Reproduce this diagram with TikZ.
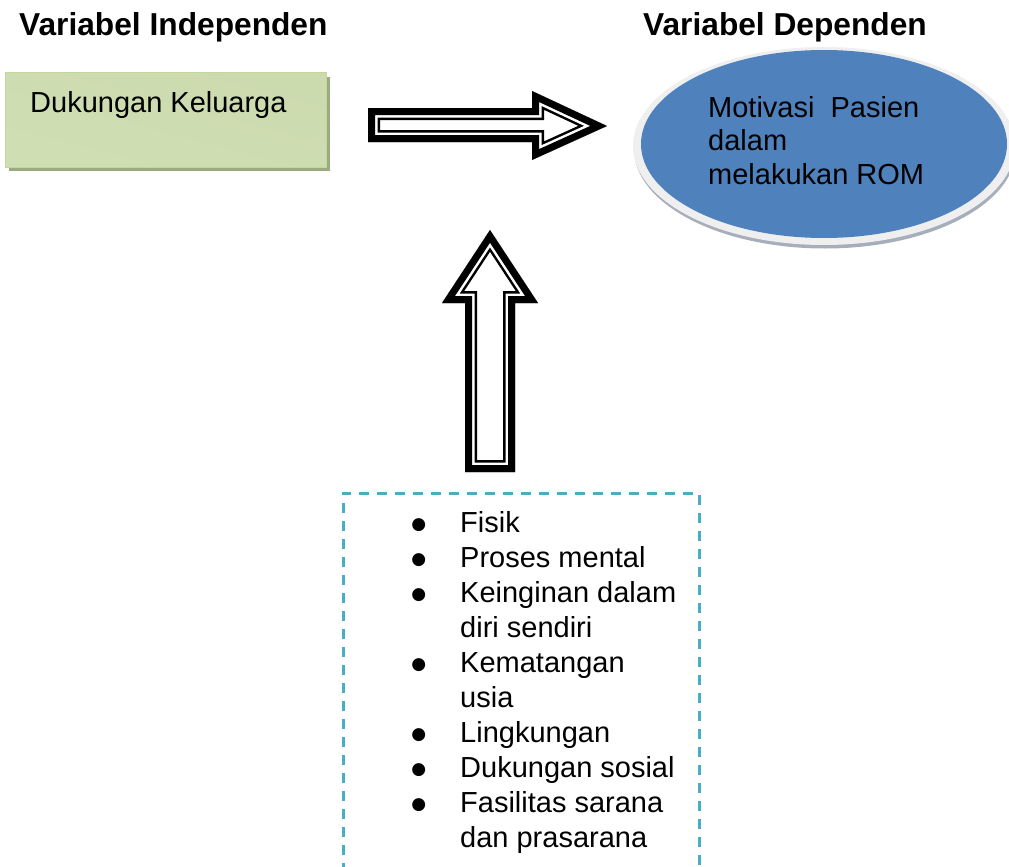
\documentclass[tikz,border=0pt]{standalone}
\usepackage{fontspec}
\setmainfont{Liberation Sans}
\newfontfamily\symfont{DejaVu Sans}
\usetikzlibrary{shapes.geometric,shadows}
\definecolor{dashc}{HTML}{4BACC6}
\definecolor{blueE}{HTML}{4F81BD}
\definecolor{ringE}{HTML}{EFEFEF}
\definecolor{shadE}{HTML}{A7AEBB}
\definecolor{greenB}{HTML}{C3D69B}
\definecolor{greenT}{HTML}{CCDBAE}
\definecolor{greenM}{HTML}{F0F5E9}
\definecolor{greenD}{HTML}{D0DEB4}
\definecolor{shadowG}{HTML}{9BAA80}
\newcommand{\bul}{\makebox[15pt][c]{\raisebox{3pt}{\fontsize{17}{17}\symfont ●}}}
\begin{document}
\begin{tikzpicture}[x=1pt,y=-1pt,
  titletext/.style={anchor=base west, inner sep=0pt, font=\fontsize{31.7}{38}\selectfont\bfseries},
  bodytext/.style={anchor=base west, inner sep=0pt, font=\fontsize{29}{35}\selectfont},
  greenbox/.style={rectangle, minimum width=321pt, minimum height=94pt, inner sep=0pt,
    draw=greenB, line width=1pt,
    top color=greenT, middle color=greenM, bottom color=greenD, shading angle=-15,
    drop shadow={shadow xshift=4pt, shadow yshift=-4pt, fill=shadowG, opacity=1}},
  blueell/.style={ellipse, minimum width=366pt, minimum height=188pt, inner sep=0pt, fill=blueE},
  dashbox/.style={rectangle, draw=dashc, line width=3pt, dash pattern=on 10pt off 8pt, dash phase=4pt,
    minimum width=356pt, minimum height=390pt, inner sep=0pt},
  blockarrow/.style={line join=miter, miter limit=20}
]
\useasboundingbox (0,0) rectangle (1009,867);

% titles
\node[titletext] (tind) at (19,36) {Variabel Independen};
\node[titletext] (tdep) at (643,36) {Variabel Dependen};

% independent variable box
\node[greenbox] (indep) at (165.5,120) {};
\node[bodytext] (indeptext) at (30,112) {Dukungan Keluarga};

% dependent variable ellipse
\fill[shadE] (825,149) ellipse [x radius=191, y radius=99.5];
\fill[ringE] (824,146) ellipse [x radius=191, y radius=99];
\node[blueell] (dep) at (824,144) {};
\node[bodytext] (deptext) at (708,117) {\fontsize{29}{33.5}\selectfont\begin{tabular}[t]{@{}l@{}}Motivasi\ \ Pasien\\dalam\\melakukan ROM\end{tabular}};

% right block arrow
\coordinate (r1) at (368,108);
\coordinate (r2) at (532,108);
\coordinate (r3) at (532,91);
\coordinate (r4) at (607,126);
\coordinate (r5) at (532,160);
\coordinate (r6) at (532,142);
\coordinate (r7) at (368,142);
\begin{scope}
\clip (r1) -- (r2) -- (r3) -- (r4) -- (r5) -- (r6) -- (r7) -- cycle;
\foreach \w/\c in {24/black,19/white,14/black}
  \draw[blockarrow, \c, line width=\w pt] (r1) -- (r2) -- (r3) -- (r4) -- (r5) -- (r6) -- (r7) -- cycle;
\end{scope}

% up block arrow
\coordinate (u1) at (465,472);
\coordinate (u2) at (465,303);
\coordinate (u3) at (442,303);
\coordinate (u4) at (490,230);
\coordinate (u5) at (538,303);
\coordinate (u6) at (515,303);
\coordinate (u7) at (515,472);
\begin{scope}
\clip (u1) -- (u2) -- (u3) -- (u4) -- (u5) -- (u6) -- (u7) -- cycle;
\foreach \w/\c in {24/black,19/white,14/black}
  \draw[blockarrow, \c, line width=\w pt] (u1) -- (u2) -- (u3) -- (u4) -- (u5) -- (u6) -- (u7) -- cycle;
\end{scope}

% factors box
\node[dashbox] (factors) at (521,688) {};
\node[bodytext] (list) at (411,532) {\begin{tabular}[t]{@{}p{49pt}@{}l@{}}
\bul & Fisik\\
\bul & Proses mental\\
\bul & Keinginan dalam\\
 & diri sendiri\\
\bul & Kematangan\\
 & usia\\
\bul & Lingkungan\\
\bul & Dukungan sosial\\
\bul & Fasilitas sarana\\
 & dan prasarana
\end{tabular}};
\end{tikzpicture}
\end{document}
